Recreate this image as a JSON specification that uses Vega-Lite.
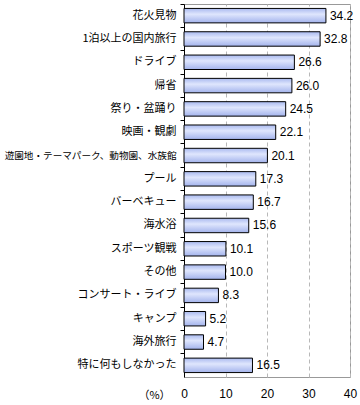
{
  "$schema": "https://vega.github.io/schema/vega-lite/v6.json",
  "width": 166,
  "height": 373,
  "autosize": {"type": "none"},
  "padding": {"left": 184, "top": 4, "right": 10, "bottom": 28},
  "background": "white",
  "config": {
    "view": {"stroke": "#999999", "strokeWidth": 1},
    "font": "Noto Sans CJK JP"
  },
  "data": {
    "values": [
      {"item": "花火見物", "value": 34.2},
      {"item": "1泊以上の国内旅行", "value": 32.8},
      {"item": "ドライブ", "value": 26.6},
      {"item": "帰省", "value": 26.0},
      {"item": "祭り・盆踊り", "value": 24.5},
      {"item": "映画・観劇", "value": 22.1},
      {"item": "遊園地・テーマパーク、動物園、水族館", "value": 20.1},
      {"item": "プール", "value": 17.3},
      {"item": "バーベキュー", "value": 16.7},
      {"item": "海水浴", "value": 15.6},
      {"item": "スポーツ観戦", "value": 10.1},
      {"item": "その他", "value": 10.0},
      {"item": "コンサート・ライブ", "value": 8.3},
      {"item": "キャンプ", "value": 5.2},
      {"item": "海外旅行", "value": 4.7},
      {"item": "特に何もしなかった", "value": 16.5}
    ]
  },
  "encoding": {
    "y": {
      "field": "item",
      "type": "nominal",
      "sort": null,
      "scale": {"paddingInner": 0.38, "paddingOuter": 0.19}
    },
    "x": {
      "field": "value",
      "type": "quantitative",
      "scale": {"domain": [0, 40], "nice": false, "zero": true}
    }
  },
  "layer": [
    {
      "mark": {
        "type": "bar",
        "stroke": "black",
        "strokeWidth": 1,
        "fill": {
          "gradient": "linear",
          "x1": 0, "y1": 0, "x2": 0, "y2": 1,
          "stops": [
            {"offset": 0, "color": "#a9b9ef"},
            {"offset": 0.4, "color": "#dfe6fd"},
            {"offset": 1, "color": "#a3b3ec"}
          ]
        }
      },
      "encoding": {
        "y": {
          "field": "item",
          "type": "nominal",
          "sort": null,
          "axis": {
            "title": null,
            "orient": "left",
            "domain": true,
            "domainColor": "black",
            "domainWidth": 1,
            "ticks": false,
            "labelPadding": 8,
            "labelFontSize": {"condition": {"test": "length(datum.value) > 12", "value": 9.6}, "value": 11},
            "labelColor": "black",
            "labelLimit": 200,
            "labelFont": "Noto Sans CJK JP"
          }
        },
        "x": {
          "field": "value",
          "type": "quantitative",
          "axis": {
            "values": [0, 10, 20, 30, 40],
            "domain": false,
            "ticks": false,
            "grid": true,
            "gridColor": "#b8b8b8",
            "gridDash": [4, 3],
            "gridWidth": 1,
            "labelPadding": 11,
            "labelFontSize": 12,
            "labelFont": "Liberation Sans",
            "labelColor": "black",
            "labelFlush": false,
            "title": "（%）",
            "titleFont": "Noto Sans CJK JP",
            "titleFontSize": 11,
            "titleFontWeight": "normal",
            "titleColor": "black",
            "titleX": -30,
            "titleY": 18,
            "titleAlign": "center",
            "titleBaseline": "middle",
            "titleAnchor": null
          }
        }
      }
    },
    {
      "mark": {
        "type": "text",
        "align": "left",
        "baseline": "middle",
        "dx": 4,
        "fontSize": 12,
        "font": "Liberation Sans",
        "color": "black"
      },
      "encoding": {
        "text": {"field": "value", "type": "quantitative", "format": ".1f"},
        "y": {
          "field": "item",
          "type": "nominal",
          "sort": null,
          "axis": {
            "title": null,
            "orient": "left",
            "domain": false,
            "labels": false,
            "ticks": true,
            "tickColor": "black",
            "tickSize": 4,
            "tickWidth": 1,
            "bandPosition": -0.3
          }
        }
      }
    }
  ],
  "resolve": {"axis": {"y": "independent"}}
}
